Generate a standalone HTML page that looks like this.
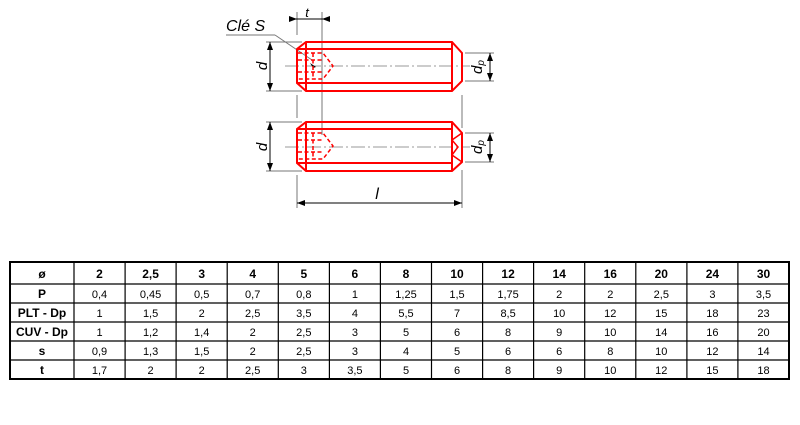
<!DOCTYPE html>
<html><head><meta charset="utf-8"><style>
html,body{margin:0;padding:0;background:#fff;width:800px;height:425px;overflow:hidden}
svg{display:block}
</style></head><body>
<svg width="800" height="425" viewBox="0 0 800 425" xmlns="http://www.w3.org/2000/svg" font-family="Liberation Sans, Arial, sans-serif">
<defs>
<marker id="a" markerWidth="8" markerHeight="6" refX="8" refY="3" orient="auto-start-reverse" markerUnits="userSpaceOnUse"><path d="M0,0 L8,3 L0,6 z" fill="#000"/></marker>
</defs>
<g stroke="#999" stroke-width="1" stroke-dasharray="14,3,2,3">
<line x1="285" y1="66" x2="470" y2="66"/>
<line x1="285" y1="147" x2="470" y2="147"/>
</g>
<g stroke="#777" stroke-width="1">
<line x1="297" y1="12" x2="297" y2="35"/>
<line x1="297" y1="95" x2="297" y2="118"/>
<line x1="297" y1="175" x2="297" y2="208"/>
<line x1="322" y1="12" x2="322" y2="135"/>
<line x1="462" y1="95" x2="462" y2="128"/>
<line x1="462" y1="170" x2="462" y2="208"/>
<line x1="266" y1="42" x2="302" y2="42"/>
<line x1="266" y1="91" x2="302" y2="91"/>
<line x1="266" y1="122" x2="302" y2="122"/>
<line x1="266" y1="171" x2="302" y2="171"/>
<line x1="465" y1="53" x2="494" y2="53"/>
<line x1="465" y1="81" x2="494" y2="81"/>
<line x1="465" y1="133" x2="494" y2="133"/>
<line x1="465" y1="162" x2="494" y2="162"/>
<line x1="226" y1="35" x2="275" y2="35"/>
<line x1="275" y1="35" x2="312" y2="60"/>
</g>
<g stroke="#000" stroke-width="1" fill="none">
<line x1="290" y1="19" x2="297" y2="19" marker-end="url(#a)"/>
<line x1="330" y1="19" x2="322" y2="19" marker-end="url(#a)"/>
<line x1="297" y1="19" x2="322" y2="19"/>
<line x1="270" y1="42" x2="270" y2="91" marker-start="url(#a)" marker-end="url(#a)"/>
<line x1="270" y1="122" x2="270" y2="171" marker-start="url(#a)" marker-end="url(#a)"/>
<line x1="490" y1="53" x2="490" y2="81" marker-start="url(#a)" marker-end="url(#a)"/>
<line x1="490" y1="133" x2="490" y2="162" marker-start="url(#a)" marker-end="url(#a)"/>
<line x1="297" y1="203" x2="462" y2="203" marker-start="url(#a)" marker-end="url(#a)"/>
</g>
<path d="M310,63 L316,67 L313,68z" fill="#000"/>
<g font-style="italic" font-size="15" fill="#000">
<text x="307" y="17" text-anchor="middle" font-size="13">t</text>
<text x="226" y="31" font-size="16">Clé S</text>
<text x="262" y="71" transform="rotate(-90 262 66)" text-anchor="middle">d</text>
<text x="262" y="152" transform="rotate(-90 262 147)" text-anchor="middle">d</text>
<text x="477" y="72" transform="rotate(-90 477 67)" text-anchor="middle">d<tspan font-size="10" dy="2">p</tspan></text>
<text x="477" y="152" transform="rotate(-90 477 147)" text-anchor="middle">d<tspan font-size="10" dy="2">p</tspan></text>
<text x="377" y="199" text-anchor="middle" font-size="16">l</text>
</g>
<g stroke="#f00" stroke-width="2" fill="none">
<path d="M306,42 L452,42 L462,53 L462,81 L452,91 L306,91 L297,83 L297,49 Z"/>
<line x1="306" y1="42" x2="306" y2="91"/>
<line x1="452" y1="42" x2="452" y2="91"/>
<line x1="297" y1="49" x2="452" y2="49"/>
<line x1="297" y1="83" x2="452" y2="83"/>
<path d="M306,122 L452,122 L462,133 L462,162 L452,171 L306,171 L297,163 L297,129 Z"/>
<line x1="306" y1="122" x2="306" y2="171"/>
<line x1="452" y1="122" x2="452" y2="171"/>
<line x1="297" y1="129" x2="452" y2="129"/>
<line x1="297" y1="163" x2="452" y2="163"/>
<path d="M452,140 L462,133 M452,155 L462,162 M452,140 L458,147 L452,155" stroke-width="1.5"/>
</g>
<g stroke="#f00" stroke-width="1.5" fill="none" stroke-dasharray="4,2.5">
<path d="M298,53 L323,53 L333,66 L323,79 L298,79"/>
<line x1="298" y1="60" x2="323" y2="60"/>
<line x1="298" y1="72" x2="323" y2="72"/>
<line x1="313" y1="53" x2="313" y2="79"/>
<path d="M298,133 L323,133 L333,146 L323,159 L298,159"/>
<line x1="298" y1="140" x2="323" y2="140"/>
<line x1="298" y1="152" x2="323" y2="152"/>
<line x1="313" y1="133" x2="313" y2="159"/>
</g>
<g stroke="#000" fill="none">
<rect x="10" y="262" width="779" height="117" stroke-width="2"/>
<g stroke-width="1.2">
<line x1="10" y1="284" x2="789" y2="284"/>
<line x1="10" y1="303" x2="789" y2="303"/>
<line x1="10" y1="322" x2="789" y2="322"/>
<line x1="10" y1="341" x2="789" y2="341"/>
<line x1="10" y1="360" x2="789" y2="360"/>
<line x1="74" y1="262" x2="74" y2="379"/>
<line x1="125.1" y1="262" x2="125.1" y2="379"/>
<line x1="176.1" y1="262" x2="176.1" y2="379"/>
<line x1="227.2" y1="262" x2="227.2" y2="379"/>
<line x1="278.3" y1="262" x2="278.3" y2="379"/>
<line x1="329.4" y1="262" x2="329.4" y2="379"/>
<line x1="380.4" y1="262" x2="380.4" y2="379"/>
<line x1="431.5" y1="262" x2="431.5" y2="379"/>
<line x1="482.6" y1="262" x2="482.6" y2="379"/>
<line x1="533.6" y1="262" x2="533.6" y2="379"/>
<line x1="584.7" y1="262" x2="584.7" y2="379"/>
<line x1="635.8" y1="262" x2="635.8" y2="379"/>
<line x1="686.9" y1="262" x2="686.9" y2="379"/>
<line x1="737.9" y1="262" x2="737.9" y2="379"/>
</g>
</g>
<g font-size="11" text-anchor="middle" fill="#000">
<g font-weight="bold" font-size="12">
<text x="42" y="278">ø</text>
<text x="42" y="298">P</text>
<text x="42" y="317">PLT - Dp</text>
<text x="42" y="336">CUV - Dp</text>
<text x="42" y="355">s</text>
<text x="42" y="374">t</text>
</g>
<g font-weight="bold" font-size="12">
<text x="99.5" y="278">2</text><text x="150.6" y="278">2,5</text><text x="201.7" y="278">3</text><text x="252.7" y="278">4</text><text x="303.8" y="278">5</text><text x="354.9" y="278">6</text><text x="406" y="278">8</text><text x="457" y="278">10</text><text x="508.1" y="278">12</text><text x="559.2" y="278">14</text><text x="610.3" y="278">16</text><text x="661.3" y="278">20</text><text x="712.4" y="278">24</text><text x="763.5" y="278">30</text>
</g>
<g>
<text x="99.5" y="298">0,4</text><text x="150.6" y="298">0,45</text><text x="201.7" y="298">0,5</text><text x="252.7" y="298">0,7</text><text x="303.8" y="298">0,8</text><text x="354.9" y="298">1</text><text x="406" y="298">1,25</text><text x="457" y="298">1,5</text><text x="508.1" y="298">1,75</text><text x="559.2" y="298">2</text><text x="610.3" y="298">2</text><text x="661.3" y="298">2,5</text><text x="712.4" y="298">3</text><text x="763.5" y="298">3,5</text>
<text x="99.5" y="317">1</text><text x="150.6" y="317">1,5</text><text x="201.7" y="317">2</text><text x="252.7" y="317">2,5</text><text x="303.8" y="317">3,5</text><text x="354.9" y="317">4</text><text x="406" y="317">5,5</text><text x="457" y="317">7</text><text x="508.1" y="317">8,5</text><text x="559.2" y="317">10</text><text x="610.3" y="317">12</text><text x="661.3" y="317">15</text><text x="712.4" y="317">18</text><text x="763.5" y="317">23</text>
<text x="99.5" y="336">1</text><text x="150.6" y="336">1,2</text><text x="201.7" y="336">1,4</text><text x="252.7" y="336">2</text><text x="303.8" y="336">2,5</text><text x="354.9" y="336">3</text><text x="406" y="336">5</text><text x="457" y="336">6</text><text x="508.1" y="336">8</text><text x="559.2" y="336">9</text><text x="610.3" y="336">10</text><text x="661.3" y="336">14</text><text x="712.4" y="336">16</text><text x="763.5" y="336">20</text>
<text x="99.5" y="355">0,9</text><text x="150.6" y="355">1,3</text><text x="201.7" y="355">1,5</text><text x="252.7" y="355">2</text><text x="303.8" y="355">2,5</text><text x="354.9" y="355">3</text><text x="406" y="355">4</text><text x="457" y="355">5</text><text x="508.1" y="355">6</text><text x="559.2" y="355">6</text><text x="610.3" y="355">8</text><text x="661.3" y="355">10</text><text x="712.4" y="355">12</text><text x="763.5" y="355">14</text>
<text x="99.5" y="374">1,7</text><text x="150.6" y="374">2</text><text x="201.7" y="374">2</text><text x="252.7" y="374">2,5</text><text x="303.8" y="374">3</text><text x="354.9" y="374">3,5</text><text x="406" y="374">5</text><text x="457" y="374">6</text><text x="508.1" y="374">8</text><text x="559.2" y="374">9</text><text x="610.3" y="374">10</text><text x="661.3" y="374">12</text><text x="712.4" y="374">15</text><text x="763.5" y="374">18</text>
</g>
</g>
</svg>
</body></html>
